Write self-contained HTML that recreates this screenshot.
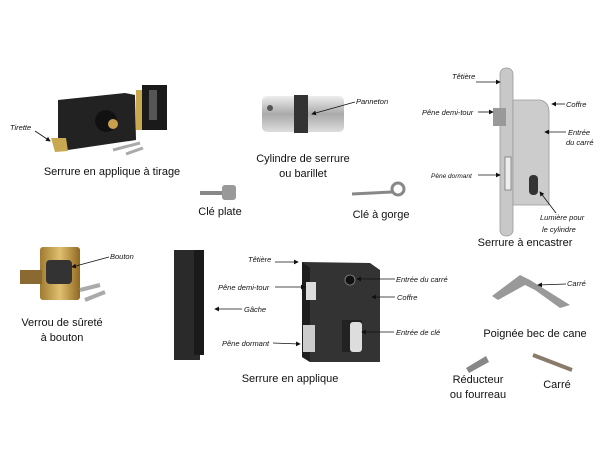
<!DOCTYPE html>
<html><head><meta charset="utf-8"><style>
body{margin:0;width:600px;height:460px;background:#fff;position:relative;overflow:hidden;font-family:"Liberation Sans",sans-serif}
.c{position:absolute;font-size:11px;color:#111;text-align:center;transform:translateX(-50%);white-space:nowrap;line-height:15px}
</style></head><body>
<svg width="600" height="460" style="position:absolute;left:0;top:0" font-family="Liberation Sans, sans-serif">
<defs><marker id="a" markerWidth="6" markerHeight="6" refX="5" refY="3" orient="auto"><path d="M0,0L6,3L0,6z" fill="#111"/></marker>
<linearGradient id="s" x1="0" y1="0" x2="0" y2="1"><stop offset="0" stop-color="#eee"/><stop offset=".5" stop-color="#aaa"/><stop offset="1" stop-color="#ddd"/></linearGradient>
<linearGradient id="g" x1="0" x2="1"><stop offset="0" stop-color="#a07a30"/><stop offset=".5" stop-color="#e0c070"/><stop offset="1" stop-color="#906820"/></linearGradient></defs>
<g font-size="7.5" font-style="italic" fill="#111" stroke-width=".8">
<!-- top-left lock -->
<rect x="136" y="90" width="10" height="40" fill="#c8a850"/>
<path d="M58,100 L125,93 L135,95 L136,140 L68,150 L58,146z" fill="#222"/>
<rect x="142" y="85" width="25" height="45" fill="#1a1a1a"/><rect x="149" y="90" width="8" height="30" fill="#555"/>
<circle cx="106" cy="121" r="11" fill="#111"/><circle cx="113" cy="124" r="5" fill="#c9a050"/>
<path d="M51,138 L66,138 L68,151 L55,152z" fill="#c8a850"/>
<path d="M113,150 L140,143 M126,154 L143,148" stroke="#aaa" stroke-width="3"/>
<text x="10" y="130">Tirette</text><line x1="35" y1="131" x2="50" y2="141" stroke="#111" marker-end="url(#a)"/>
<!-- cylinder -->
<rect x="262" y="96" width="82" height="36" rx="5" fill="url(#s)"/><rect x="294" y="95" width="14" height="38" fill="#333"/>
<circle cx="270" cy="108" r="3" fill="#555"/>
<text x="356" y="104">Panneton</text><line x1="355" y1="102" x2="312" y2="114" stroke="#111" marker-end="url(#a)"/>
<!-- keys -->
<path d="M200,193 L225,193" stroke="#888" stroke-width="4"/><rect x="222" y="185" width="14" height="15" rx="3" fill="#999"/>
<path d="M352,194 L392,192" stroke="#888" stroke-width="3"/><circle cx="398" cy="189" r="6" fill="none" stroke="#888" stroke-width="3"/>
<!-- encastrer -->
<rect x="500" y="68" width="13" height="168" rx="6" fill="#c8c8c8" stroke="#999"/>
<path d="M513,100 L540,100 Q549,102 549,112 L549,205 L513,205z" fill="#ccc" stroke="#999"/>
<rect x="493" y="108" width="13" height="18" fill="#999"/><rect x="505" y="157" width="6" height="33" fill="#eee" stroke="#777"/>
<rect x="529" y="175" width="9" height="20" rx="4" fill="#333"/>
<text x="452" y="79">Têtière</text><line x1="476" y1="82" x2="500" y2="82" stroke="#111" marker-end="url(#a)"/>
<text x="422" y="115">Pêne demi-tour</text><line x1="478" y1="112" x2="493" y2="112" stroke="#111" marker-end="url(#a)"/>
<text x="566" y="107">Coffre</text><line x1="565" y1="104" x2="552" y2="104" stroke="#111" marker-end="url(#a)"/>
<text x="568" y="135">Entrée</text><text x="566" y="145">du carré</text><line x1="566" y1="132" x2="545" y2="132" stroke="#111" marker-end="url(#a)"/>
<text x="431" y="178" font-size="6.5">Pêne dormant</text><line x1="478" y1="175" x2="500" y2="175" stroke="#111" marker-end="url(#a)"/>
<text x="540" y="220">Lumière pour</text><text x="542" y="232">le cylindre</text><line x1="556" y1="213" x2="540" y2="192" stroke="#111" marker-end="url(#a)"/>
<!-- verrou -->
<rect x="40" y="247" width="40" height="53" rx="3" fill="url(#g)"/><rect x="20" y="270" width="22" height="14" fill="#8a6a30"/>
<rect x="46" y="260" width="26" height="24" rx="4" fill="#333"/><path d="M80,290 L100,285 M85,300 L105,292" stroke="#aaa" stroke-width="4"/>
<text x="110" y="259">Bouton</text><line x1="109" y1="257" x2="72" y2="267" stroke="#111" marker-end="url(#a)"/>
<!-- gache -->
<rect x="174" y="250" width="26" height="110" fill="#2a2a2a"/><rect x="194" y="250" width="10" height="105" fill="#1a1a1a"/>
<text x="244" y="312">Gâche</text><line x1="242" y1="309" x2="215" y2="309" stroke="#111" marker-end="url(#a)"/>
<!-- serrure en applique -->
<path d="M302,262 L370,263 L380,270 L380,362 L310,362 L302,357z" fill="#333"/>
<path d="M302,262 L310,268 L310,362 L302,357z" fill="#1e1e1e"/>
<rect x="306" y="282" width="10" height="18" fill="#ddd"/><rect x="303" y="325" width="12" height="27" fill="#ccc"/>
<circle cx="350" cy="280" r="5" fill="#111" stroke="#888"/>
<rect x="342" y="320" width="20" height="32" fill="#222"/><rect x="350" y="322" width="12" height="30" rx="3" fill="#ddd"/>
<text x="248" y="262">Têtière</text><line x1="275" y1="262" x2="298" y2="262" stroke="#111" marker-end="url(#a)"/>
<text x="218" y="290">Pêne demi-tour</text><line x1="275" y1="287" x2="305" y2="287" stroke="#111" marker-end="url(#a)"/>
<text x="222" y="346">Pêne dormant</text><line x1="273" y1="343" x2="300" y2="344" stroke="#111" marker-end="url(#a)"/>
<text x="396" y="282">Entrée du carré</text><line x1="395" y1="279" x2="357" y2="279" stroke="#111" marker-end="url(#a)"/>
<text x="397" y="300">Coffre</text><line x1="395" y1="297" x2="372" y2="297" stroke="#111" marker-end="url(#a)"/>
<text x="396" y="335">Entrée de clé</text><line x1="394" y1="332" x2="362" y2="332" stroke="#111" marker-end="url(#a)"/>
<!-- handle -->
<path d="M492,296 L520,275 L530,280 L570,305 L560,308 L535,290 L525,285 L498,300z" fill="#999"/>
<text x="567" y="286">Carré</text><line x1="566" y1="284" x2="538" y2="285" stroke="#111" marker-end="url(#a)"/>
<path d="M466,368 L486,356 L489,362 L469,373z" fill="#888"/>
<path d="M533,355 L572,370" stroke="#8a7a6a" stroke-width="4"/>
</g></svg>
<div class="c" style="left:112px;top:165px">Serrure en applique à tirage</div>
<div class="c" style="left:303px;top:152px">Cylindre de serrure<br>ou barillet</div>
<div class="c" style="left:220px;top:205px">Clé plate</div>
<div class="c" style="left:381px;top:208px">Clé à gorge</div>
<div class="c" style="left:525px;top:236px">Serrure à encastrer</div>
<div class="c" style="left:62px;top:316px">Verrou de sûreté<br>à bouton</div>
<div class="c" style="left:290px;top:372px">Serrure en applique</div>
<div class="c" style="left:535px;top:327px">Poignée bec de cane</div>
<div class="c" style="left:478px;top:373px">Réducteur<br>ou fourreau</div>
<div class="c" style="left:557px;top:378px">Carré</div>
</body></html>
